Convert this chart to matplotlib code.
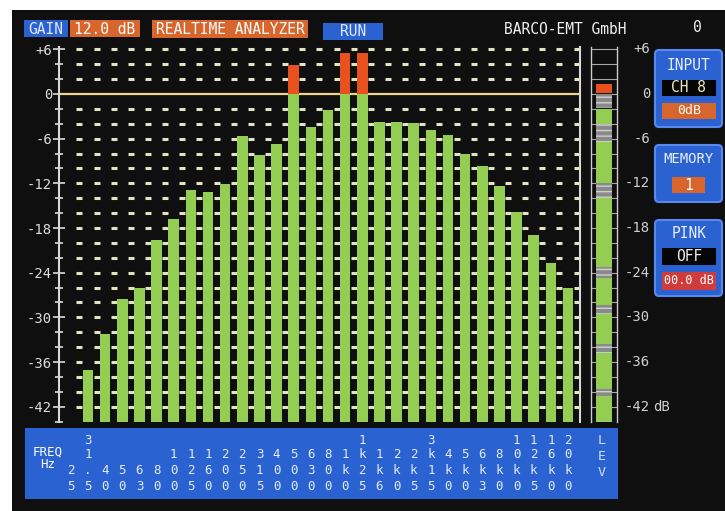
import numpy as np
import matplotlib
matplotlib.use('Agg')
import matplotlib.pyplot as plt
from matplotlib.patches import Rectangle, FancyBboxPatch
from matplotlib import transforms

# ---------------- data ----------------
bands = ['25', '31.5', '40', '50', '63', '80', '100', '125', '160', '200',
         '250', '315', '400', '500', '630', '800', '1k0', '1k25', '1k6', '2k0',
         '2k5', '3k15', '4k0', '5k0', '6k3', '8k0', '10k0', '12k5', '16k0', '20k0']
levels_db = [np.nan, -37.1, -32.2, -27.6, -26.0, -19.6, -16.8, -12.9, -13.1, -12.1,
             -5.7, -8.2, -6.7, 3.9, -4.4, -2.1, 5.5, 5.5, -3.7, -3.7,
             -3.9, -4.9, -5.5, -8.0, -9.7, -12.4, -15.8, -18.9, -22.7, -26.0]
y_ticks = [6, 0, -6, -12, -18, -24, -30, -36, -42]
y_tick_labels = ['+6', '0', '-6', '-12', '-18', '-24', '-30', '-36', '-42']
grid_levels = [v for v in range(6, -43, -2) if v != 0]
floor_db = -44
top_db = 6.35

lev_level = -2.0
lev_peak = (0.1, 1.3)
lev_gray = [(-1.9, 0.0), (-6.5, -4.0), (-14.0, -12.0), (-24.7, -23.2),
            (-29.6, -28.4), (-34.8, -33.6), (-40.5, -39.6)]

# ---------------- colours ----------------
GREEN = '#93cd52'
RED = '#e8501e'
BLUE = '#2a62d2'
ORANGE = '#d8652c'
SCREEN = '#0f0f0f'
TXT = '#e6e6e6'
MONO = 'DejaVu Sans Mono'

W, H = 725, 511
fig = plt.figure(figsize=(W / 100, H / 100), dpi=100, facecolor='white')

# background / overlay axes in pixel coordinates
bg = fig.add_axes([0, 0, 1, 1], zorder=0)
bg.set_xlim(0, W)
bg.set_ylim(H, 0)
bg.axis('off')
bg.add_patch(Rectangle((12, 10), W - 12, H - 10, color=SCREEN, lw=0))

# ---------------- main analyzer axes ----------------
ax_l, ax_r, ax_t, ax_b = 59, 580, 46.7, 421.6
ax = fig.add_axes([ax_l / W, 1 - ax_b / H, (ax_r - ax_l) / W, (ax_b - ax_t) / H], zorder=2)
ax.set_facecolor('none')
n = len(bands)
x = np.arange(n)
ax.set_xlim(-0.694, 29.7)
ax.set_ylim(floor_db, top_db)

vals = np.array(levels_db, dtype=float)
ok = ~np.isnan(vals)
green_top = np.minimum(vals[ok], 0)
ax.bar(x[ok], green_top - floor_db, bottom=floor_db, width=0.62, color=GREEN, zorder=3, lw=0)
pos = ok & (np.nan_to_num(vals, nan=-99) > 0)
ax.bar(x[pos], vals[pos], bottom=0, width=0.62, color=RED, zorder=3, lw=0)

gaps = np.arange(n) + 0.5
for lv in grid_levels:
    ax.plot(gaps, [lv] * len(gaps), ls='none', marker='_', ms=5, mew=2.2,
            color='#e4e2c4', zorder=2)
ax.axhline(0, color='#e8d48a', lw=1.6, zorder=2)

for s in ['top', 'bottom']:
    ax.spines[s].set_visible(False)
for s in ['left', 'right']:
    ax.spines[s].set_color('#d8d8d8')
    ax.spines[s].set_linewidth(1.5)
ax.set_xticks([])
ax.set_yticks(y_ticks)
ax.set_yticklabels(y_tick_labels)
ax.set_yticks(range(6, -45, -2), minor=True)
ax.tick_params(axis='y', which='major', direction='inout', length=8, width=1.2,
               colors='#dcdcdc', labelsize=10, pad=1)
ax.tick_params(axis='y', which='minor', direction='inout', length=6, width=1.2,
               colors='#dcdcdc')
for lab in ax.get_yticklabels():
    lab.set_fontfamily(MONO)

# ---------------- LEV meter ----------------
mx = fig.add_axes([591 / W, 1 - ax_b / H, 26 / W, (ax_b - ax_t) / H], zorder=2)
mx.set_facecolor('none')
mx.set_xlim(0, 1)
mx.set_ylim(floor_db, top_db)
mx.set_xticks([])
mx.set_yticks([])
for s in ['top', 'bottom']:
    mx.spines[s].set_visible(False)
for s in ['left', 'right']:
    mx.spines[s].set_color('#c8c8c8')
    mx.spines[s].set_linewidth(1.0)
mx.hlines(range(6, -45, -2), 0, 1, color='#a8a8a8', lw=0.8, zorder=1)
mx.bar(0.5, lev_level - floor_db, bottom=floor_db, width=0.65, color=GREEN, zorder=2, lw=0)
for lo, hi in lev_gray:
    mx.bar(0.5, hi - lo, bottom=lo, width=0.65, color='#8a8a8a', zorder=3, lw=0,
           hatch='---', edgecolor='#d0d0d0')
mx.bar(0.5, lev_peak[1] - lev_peak[0], bottom=lev_peak[0], width=0.65, color=RED, zorder=3, lw=0)

mtr = transforms.blended_transform_factory(mx.transAxes, mx.transData)
for v, lab in zip(y_ticks, y_tick_labels):
    mx.text(2.27, v, lab, transform=mtr, ha='right', va='center', color='#d0d0d0',
            fontsize=10, family=MONO, clip_on=False)
mx.text(2.38, y_ticks[-1], 'dB', transform=mtr, ha='left', va='center', color='#d0d0d0',
        fontsize=10, family=MONO, clip_on=False)


# ---------------- header ----------------
def box(x0, y0, x1, y1, fc, ec='none', round_=False, lw=0):
    if round_:
        p = FancyBboxPatch((x0, y0), x1 - x0, y1 - y0, boxstyle='round,pad=0,rounding_size=4',
                           fc=fc, ec=ec, lw=lw)
    else:
        p = Rectangle((x0, y0), x1 - x0, y1 - y0, fc=fc, ec=ec, lw=lw)
    bg.add_patch(p)


def txt(xc, yc, s, size=10.5, color=TXT, ha='center', weight='normal'):
    bg.text(xc, yc, s, ha=ha, va='center', fontsize=size, color=color, family=MONO,
            fontweight=weight)


box(24, 20, 68, 37, BLUE)
txt(46, 29, 'GAIN', color='#dfe8ff')
box(70, 20, 140, 37, ORANGE)
txt(105, 29, '12.0 dB', color='white')
box(152, 20, 308, 38, ORANGE)
txt(230, 29, 'REALTIME ANALYZER', color='white')
box(323, 23, 383, 40, BLUE)
txt(353, 31.5, 'RUN', color='#dfe8ff')
txt(565, 29, 'BARCO-EMT GmbH', color='#f0f0f0')
txt(697, 28, '0', color='#f0f0f0')

# ---------------- right panels ----------------
box(655, 50, 722, 127, BLUE, ec='#5a88ee', round_=True, lw=1.5)
txt(689, 65, 'INPUT', color='#e8eeff')
box(662, 80, 716, 96, '#050505')
txt(689, 88, 'CH 8', color='#f0e6b8')
box(662, 103, 716, 119, ORANGE)
txt(689, 111, '0dB', color='white', size=9.5)

box(655, 145, 722, 202, BLUE, ec='#5a88ee', round_=True, lw=1.5)
txt(689, 159, 'MEMORY', color='#e8eeff', size=10)
box(672, 177, 705, 193, ORANGE)
txt(688.5, 185, '1', color='white')

box(655, 220, 722, 296, BLUE, ec='#5a88ee', round_=True, lw=1.5)
txt(689, 234, 'PINK', color='#e8eeff')
box(662, 248, 716, 265, '#050505')
txt(689, 256.5, 'OFF', color='#f0f0f0')
box(662, 272, 716, 290, '#d03c3c')
txt(689, 281, '00.0 dB', color='white', size=8.5)

# ---------------- frequency band ----------------
box(25, 428, 618, 499, BLUE)
txt(48, 452, 'FREQ', size=9, color='white')
txt(48, 465, 'Hz', size=9, color='white')
ftr = transforms.blended_transform_factory(ax.transData, bg.transData)
rows = [486, 470.5, 455, 440]
for i, lab in enumerate(bands):
    for k, ch in enumerate(reversed(lab)):
        ax.text(i, rows[k], ch, transform=ftr, ha='center', va='center', fontsize=9,
                color='#e4ecff', family=MONO, clip_on=False)
for k, ch in enumerate('LEV'):
    txt(602, 440 + 16.5 * k, ch, size=9.5, color='#cfe0ff')

fig.savefig('out.png', dpi=100, facecolor=fig.get_facecolor())
